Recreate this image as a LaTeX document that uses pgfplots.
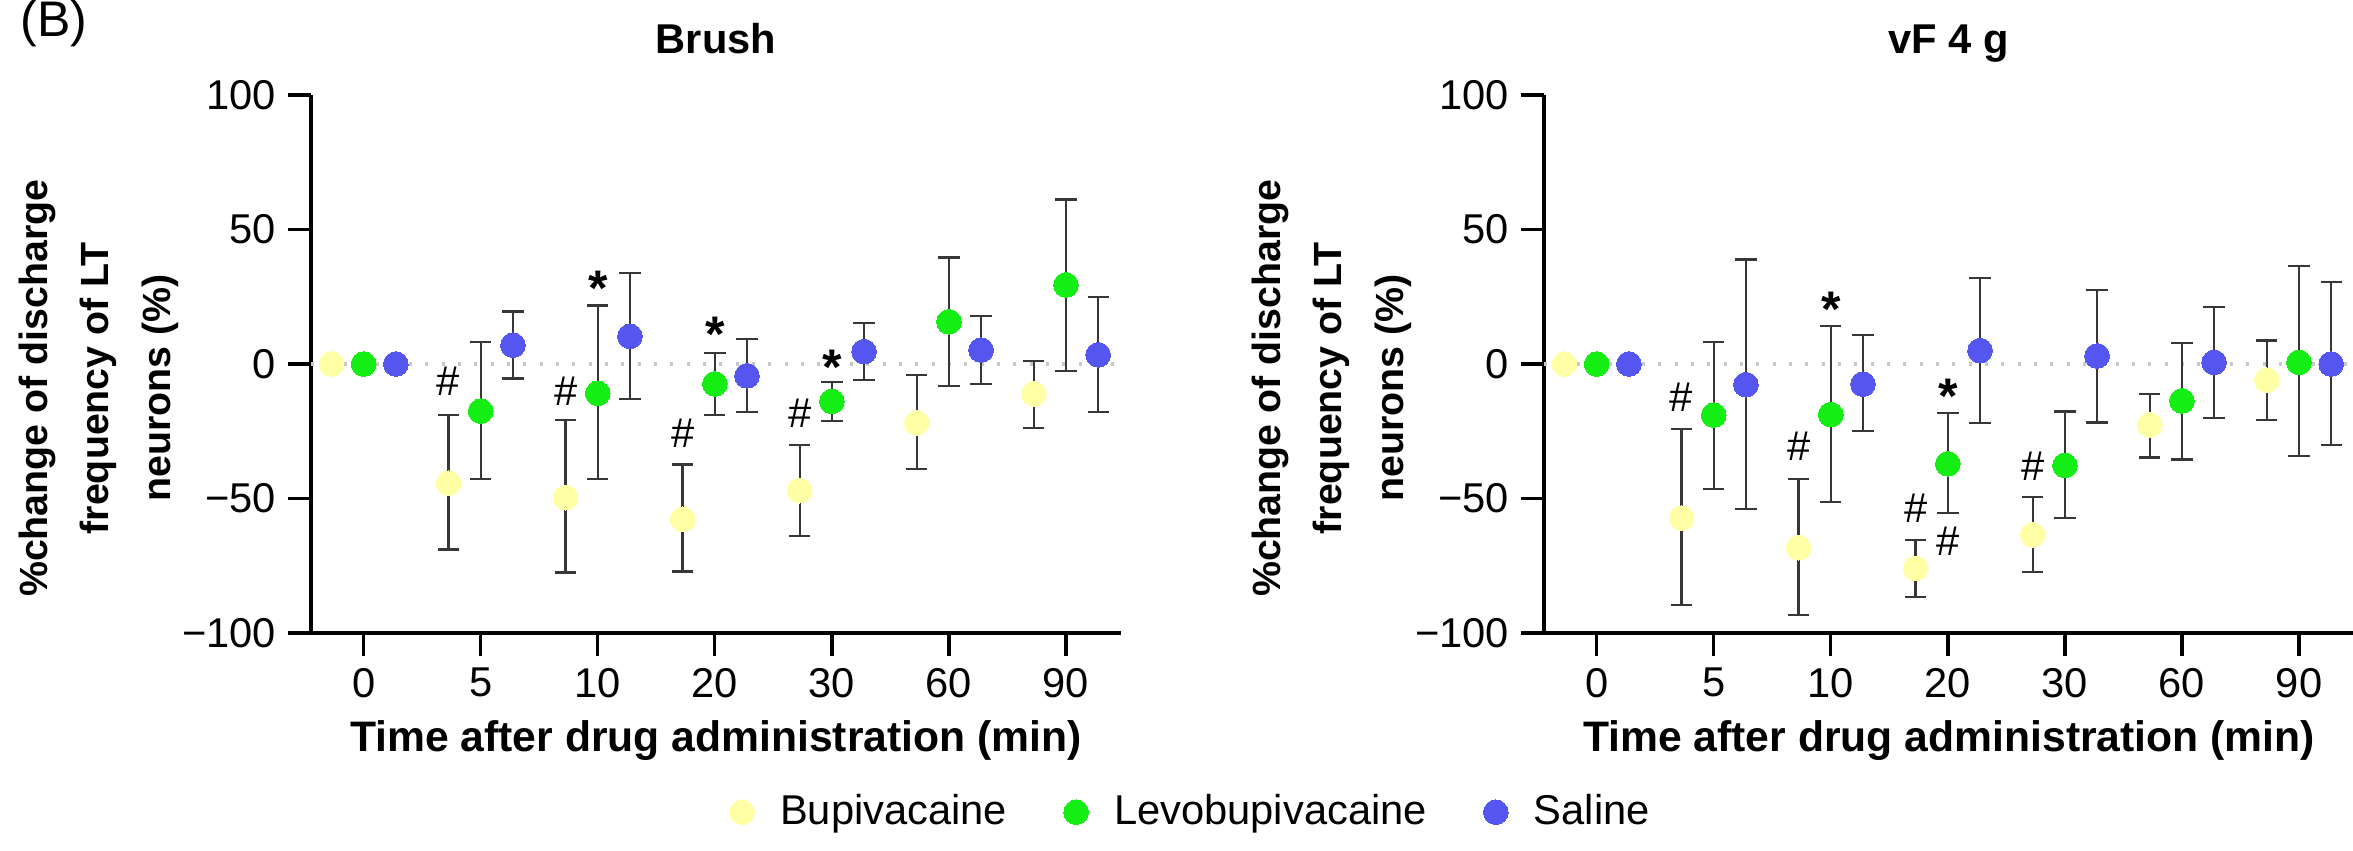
\documentclass[border=0pt]{standalone}
\usepackage{fontspec}
\setmainfont{Liberation Sans}
\usepackage{pgfplots}
\usepackage{pgfplotstable}
\pgfplotsset{compat=1.18}
\definecolor{cBup}{RGB}{255,255,165}
\definecolor{cLev}{RGB}{20,238,20}
\definecolor{cSal}{RGB}{85,85,240}
\definecolor{cErr}{RGB}{55,55,55}
\definecolor{cZero}{RGB}{200,200,200}

% Brush panel
\pgfplotstableread{
x y ep em
-0.275 0 0 0
0.725 -44.3 25.3 24.7
1.725 -49.7 29.0 27.8
2.725 -57.7 20.3 19.4
3.725 -47.1 16.9 16.9
4.725 -21.9 17.9 17.1
5.725 -11.1 12.3 12.6
}\brushBup
\pgfplotstableread{
x y ep em
0 0 0 0
1 -17.5 25.7 25.2
2 -10.9 32.6 31.8
3 -7.4 11.4 11.5
4 -13.9 7.3 7.2
5 15.7 23.9 23.9
6 29.4 31.8 32.0
}\brushLev
\pgfplotstableread{
x y ep em
0.275 0 0 0
1.275 7.0 12.5 12.4
2.275 10.3 23.5 23.2
3.275 -4.4 13.7 13.5
4.275 4.6 10.7 10.6
5.275 5.2 12.7 12.6
6.275 3.4 21.6 21.3
}\brushSal
% vF 4 g panel
\pgfplotstableread{
x y ep em
-0.275 0 0 0
0.725 -57.3 33.1 32.4
1.725 -68.3 25.6 25.0
2.725 -76.0 10.5 10.7
3.725 -63.5 14.1 13.7
4.725 -22.6 11.5 12.1
5.725 -6.0 14.7 14.8
}\vfBup
\pgfplotstableread{
x y ep em
0 0 0 0
1 -19.0 27.3 27.4
2 -18.8 32.9 32.6
3 -37.1 19.0 18.3
4 -37.7 20.0 19.6
5 -13.7 21.6 21.8
6 0.6 35.9 34.9
}\vfLev
\pgfplotstableread{
x y ep em
0.275 0 0 0
1.275 -7.7 46.6 46.1
2.275 -7.5 18.2 17.5
3.275 5.0 26.9 27.0
4.275 3.0 24.6 24.8
5.275 0.6 20.6 20.6
6.275 0.0 30.4 30.0
}\vfSal

\tikzset{ann/.style={font=\fontsize{12.5}{15}\selectfont, inner sep=0pt},
         star/.style={font=\fontsize{15}{18}\selectfont\bfseries, inner sep=0pt, anchor=north}}

\pgfplotsset{
  panel/.style={
    scale only axis, width=243pt, height=161.4pt,
    xmin=-0.45, xmax=6.47, ymin=-100, ymax=100,
    axis x line*=bottom, axis y line*=left,
    axis line style={line width=1pt, black},
    xtick={0,1,2,3,4,5,6}, xticklabels={0,5,10,20,30,60,90},
    ytick={-100,-50,0,50,100}, yticklabels={−100,−50,0,50,100},
    tick align=outside, major tick length=7pt,
    every tick/.style={black, line width=1pt},
    tick label style={font=\fontsize{12.5}{15}\selectfont},
    /pgf/number format/assume math mode=true,
    xlabel={Time after drug administration (min)},
    ylabel={\%change of discharge\\[4.3pt]frequency of LT\\[4.3pt]neurons (\%)},
    xlabel style={at={(axis description cs:0.5,-0.20)}, anchor=center,
      font=\fontsize{12.8}{15.4}\selectfont\bfseries},
    ylabel style={at={(axis description cs:-0.262,0.455)}, anchor=center, align=center,
      font=\fontsize{11.8}{14.2}\selectfont\bfseries},
    title style={at={(axis description cs:0.5,1.04)}, anchor=base, yshift=0pt,
      font=\fontsize{12.5}{15}\selectfont\bfseries},
    clip=false,
  },
  grp/.style={only marks, mark=*, mark size=3.7pt, mark options={draw=#1, fill=#1, line width=0pt},
    error bars/.cd, y dir=both, y explicit,
    error bar style={line width=0.7pt, cErr},
    error mark options={rotate=90, line width=0.7pt, cErr, mark size=3.2pt}},
  zero/.style={cZero, line width=1pt, dash pattern=on 0.9pt off 4pt, forget plot},
}

\begin{document}
\begin{tikzpicture}
\useasboundingbox (0,0) rectangle (705.9pt,255pt);
\node[anchor=base west, inner sep=0pt, font=\fontsize{15}{18}\selectfont] at (6pt,243.9pt) {(B)};

\begin{axis}[panel, at={(93.3pt,65.1pt)}, anchor=south west, title={Brush},
  legend style={at={(axis description cs:1.089,-0.333)}, anchor=center, draw=none, fill=none,
    legend columns=3, font=\fontsize{12.5}{15}\selectfont,
    /tikz/every odd column/.append style={column sep=5.7pt},
    /tikz/every even column/.append style={column sep=15pt}}]
\addplot[zero] coordinates {(-0.45,0) (6.47,0)};
\addplot[grp=cBup] table[x=x, y=y, y error plus=ep, y error minus=em] {\brushBup};
\addlegendentry{Bupivacaine}
\addplot[grp=cLev] table[x=x, y=y, y error plus=ep, y error minus=em] {\brushLev};
\addlegendentry{Levobupivacaine}
\addplot[grp=cSal] table[x=x, y=y, y error plus=ep, y error minus=em] {\brushSal};
\addlegendentry{Saline}
\node[ann] at (axis cs:0.725,-6.4) {\#};
\node[ann] at (axis cs:1.725,-10.1) {\#};
\node[ann] at (axis cs:2.725,-25.7) {\#};
\node[ann] at (axis cs:3.725,-18.3) {\#};
\node[star] at (axis cs:2,34.8) {*};
\node[star] at (axis cs:3,17.7) {*};
\node[star] at (axis cs:4,5.6) {*};
\end{axis}

\begin{axis}[panel, at={(463.2pt,65.1pt)}, anchor=south west, title={vF 4 g}]
\addplot[zero] coordinates {(-0.45,0) (6.47,0)};
\addplot[grp=cBup] table[x=x, y=y, y error plus=ep, y error minus=em] {\vfBup};
\addplot[grp=cLev] table[x=x, y=y, y error plus=ep, y error minus=em] {\vfLev};
\addplot[grp=cSal] table[x=x, y=y, y error plus=ep, y error minus=em] {\vfSal};
\node[ann] at (axis cs:0.725,-12.5) {\#};
\node[ann] at (axis cs:1.725,-30.6) {\#};
\node[ann] at (axis cs:2.725,-53.8) {\#};
\node[ann] at (axis cs:3,-65.9) {\#};
\node[ann] at (axis cs:3.725,-38.1) {\#};
\node[star] at (axis cs:2,26.8) {*};
\node[star] at (axis cs:3,-5.4) {*};
\end{axis}
\end{tikzpicture}
\end{document}
